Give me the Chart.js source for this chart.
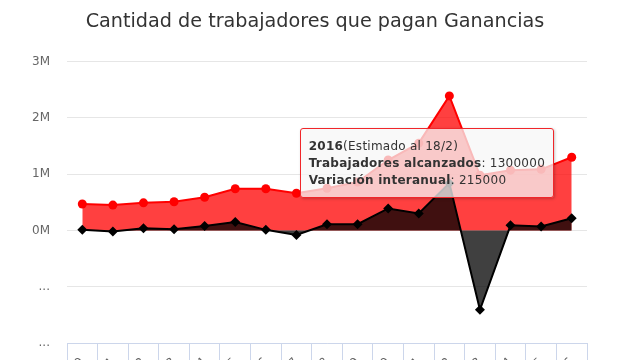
<!DOCTYPE html>
<html>
<head>
<meta charset="utf-8">
<script src="https://cdn.jsdelivr.net/npm/chart.js@4/dist/chart.umd.min.js"></script>
<style>
  html, body { margin: 0; padding: 0; background: #fff; overflow: hidden; width: 640px; height: 360px; }
  #wrap { position: relative; width: 640px; height: 400px; }
  canvas { display: block; }
  #tip {
    position: absolute; box-sizing: border-box;
    width: 254px;
    background: rgba(247,247,247,0.75);
    border: 1px solid #f0262a; border-radius: 3px;
    box-shadow: 1px 1px 3px rgba(0,0,0,0.22);
    padding: 9px 8px 8px 8px;
    font-family: "DejaVu Sans", sans-serif; font-size: 12px; line-height: 17px; color: #333;
    letter-spacing: 0.25px;
    white-space: nowrap; pointer-events: none;
  }
  #tip b { font-weight: bold; }
</style>
</head>
<body>
<div id="wrap">
  <canvas id="c" width="640" height="400"></canvas>
  <div id="tip"></div>
</div>
<script>
const titleText = 'Cantidad de trabajadores que pagan Ganancias';
const years = ['2000','2001','2002','2003','2004','2005','2006','2007','2008','2009','2010','2011','2012','2013','2014','2015','2016'];
const trabajadores = [470000, 450000, 490000, 510000, 590000, 740000, 740000, 660000, 750000, 860000, 1250000, 1550000, 2390000, 980000, 1070000, 1085000, 1300000];
const variacion = [10000, -20000, 40000, 20000, 80000, 150000, 10000, -80000, 110000, 110000, 390000, 300000, 840000, -1410000, 90000, 70000, 215000];
const yTickLabels = {3000000: '3M', 2000000: '2M', 1000000: '1M', 0: '0M', '-1000000': '...', '-2000000': '...'};
const seriesNames = ['Trabajadores alcanzados', 'Variación interanual'];
const tipIndex = 16;
const tipNote = '(Estimado al 18/2)';

const FONT = '"DejaVu Sans", sans-serif';

const tipPlugin = {
  id: 'htmlTip',
  afterDraw(chart) {
    const el = chart.getDatasetMeta(1).data[tipIndex];
    const tip = document.getElementById('tip');
    tip.innerHTML = '<b>' + years[tipIndex] + '</b>' + tipNote + '<br>' +
      '<b>' + seriesNames[0] + '</b>: ' + trabajadores[tipIndex] + '<br>' +
      '<b>' + seriesNames[1] + '</b>: ' + variacion[tipIndex];
    tip.style.left = (el.x - 272) + 'px';
    tip.style.top = (el.y - 29) + 'px';
  }
};

new Chart(document.getElementById('c'), {
  type: 'line',
  data: {
    labels: years,
    datasets: [
      {
        label: seriesNames[1],
        data: variacion,
        order: 0,
        borderColor: '#000000',
        backgroundColor: 'rgba(0,0,0,0.75)',
        borderWidth: 2,
        fill: 'origin',
        tension: 0,
        pointStyle: 'rectRot',
        pointRadius: 5,
        pointBackgroundColor: '#000000',
        pointBorderColor: '#000000',
        pointBorderWidth: 0
      },
      {
        label: seriesNames[0],
        data: trabajadores,
        order: 1,
        borderColor: '#ff0000',
        backgroundColor: 'rgba(255,0,0,0.75)',
        borderWidth: 2,
        fill: 'origin',
        tension: 0,
        pointStyle: 'circle',
        pointRadius: 4.5,
        pointBackgroundColor: '#ff0000',
        pointBorderColor: '#ff0000',
        pointBorderWidth: 0
      }
    ]
  },
  options: {
    responsive: false,
    animation: false,
    events: [],
    layout: { padding: { left: 0, right: 10, top: 0, bottom: 0 } },
    plugins: {
      legend: { display: false },
      tooltip: { enabled: false },
      title: {
        display: true,
        text: titleText,
        color: '#333333',
        font: { family: FONT, size: 19.2, weight: 'normal' },
        padding: { top: 10.5, bottom: 28 }
      }
    },
    scales: {
      x: {
        type: 'category',
        offset: true,
        afterFit(scale) { scale.height = 57; },
        grid: {
          offset: true,
          drawOnChartArea: false,
          drawTicks: true,
          tickLength: 20,
          color: '#ccd6eb'
        },
        border: { display: true, color: '#ccd6eb', width: 1 },
        ticks: {
          autoSkip: false,
          minRotation: 45,
          maxRotation: 45,
          padding: -8,
          color: '#666666',
          font: { family: FONT, size: 12 }
        }
      },
      y: {
        min: -2000000,
        max: 3000000,
        afterFit(scale) { scale.width = 67; },
        grid: {
          color: '#e6e6e6',
          drawTicks: false,
          lineWidth: 1
        },
        border: { display: false },
        ticks: {
          stepSize: 1000000,
          padding: 17,
          color: '#666666',
          font: { family: FONT, size: 12 },
          callback: (v) => yTickLabels[v] !== undefined ? yTickLabels[v] : ''
        }
      },
      yRight: {
        position: 'right',
        min: -2000000,
        max: 3000000,
        afterFit(scale) { scale.width = 43; },
        grid: { display: false, drawOnChartArea: false },
        border: { display: false },
        ticks: { display: false }
      }
    }
  },
  plugins: [tipPlugin]
});
</script>
</body>
</html>
